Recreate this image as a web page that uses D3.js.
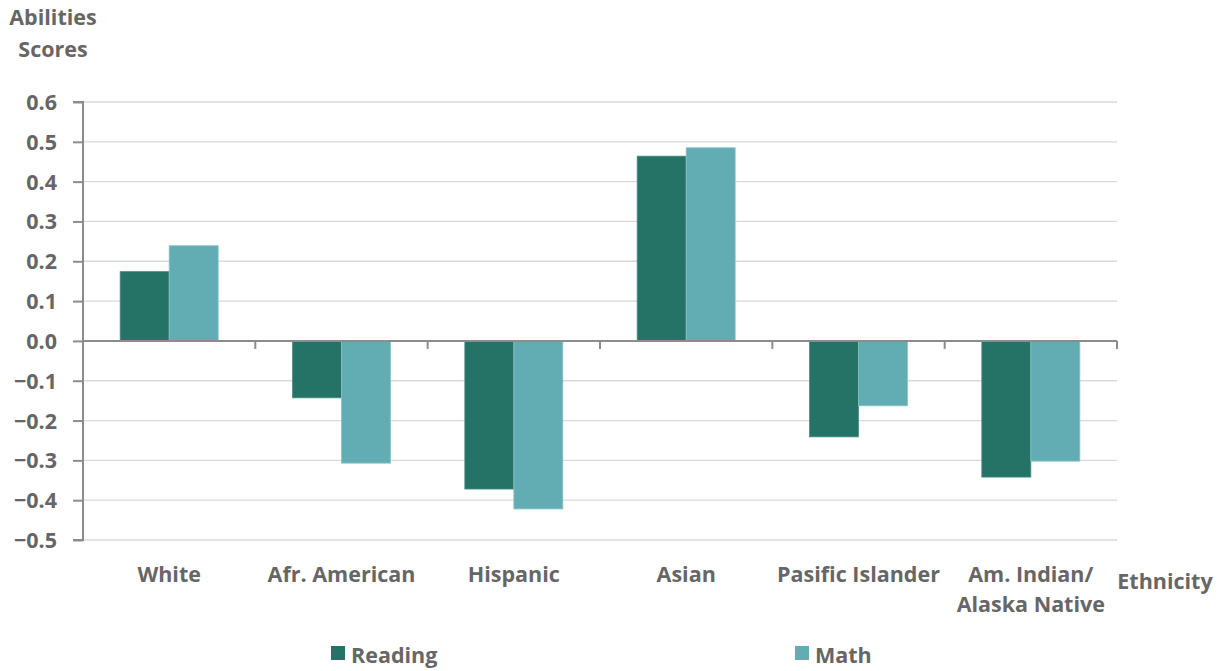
<!DOCTYPE html>
<html><head><meta charset="utf-8">
<script src="https://cdn.jsdelivr.net/npm/d3@7"></script>
<style>body{margin:0;background:#fff}svg{display:block}text{font-family:"Open Sans",Lato,sans-serif;font-weight:bold;fill:#666}</style>
</head><body><svg id="c" width="1227" height="671"></svg>
<script>
const categories = ["White","Afr. American","Hispanic","Asian","Pasific Islander","Am. Indian/\nAlaska Native"];
const seriesNames = ["Reading","Math"];
const reading = [0.174,-0.143,-0.372,0.464,-0.241,-0.342];
const math = [0.239,-0.307,-0.422,0.485,-0.163,-0.302];
const yTicks = [0.6,0.5,0.4,0.3,0.2,0.1,0.0,-0.1,-0.2,-0.3,-0.4,-0.5];
const colors = ["#247366","#62ADB4"];

const svg = d3.select("#c");
const L=83,R=1117,T=102,B=540;
const FS = "21.5px";
const y = d3.scaleLinear().domain([-0.5,0.6]).range([B,T]);
const x = d3.scaleBand().domain(categories).range([L,R]).paddingInner(0).paddingOuter(0);
const bw = 49;
const xs = d3.scaleBand().domain(seriesNames).range([0,bw*2]);

// gridlines
svg.append("g").selectAll("line").data(yTicks.filter(d=>d!==0)).join("line")
  .attr("x1",L).attr("x2",R).attr("y1",d=>y(d)).attr("y2",d=>y(d))
  .attr("stroke","#d9d9d9").attr("stroke-width",1.3);

// bars
const data = [reading,math];
data.forEach((vals,si)=>{
  svg.append("g").selectAll("rect").data(vals).join("rect")
    .attr("x",(d,i)=>x(categories[i])+x.bandwidth()/2-bw+xs(seriesNames[si]))
    .attr("width",xs.bandwidth())
    .attr("y",d=>y(Math.max(0,d)))
    .attr("height",d=>Math.abs(y(d)-y(0)))
    .attr("fill",colors[si])
    .attr("stroke",si===0?"#4a8e84":"#8cc3c8").attr("stroke-width",0.8);
});

// y axis
const yAxis = d3.axisLeft(y).tickValues(yTicks).tickFormat(d3.format(".1f")).tickSize(10).tickPadding(16);
const ga = svg.append("g").attr("transform",`translate(${L},0)`).call(yAxis);
ga.select(".domain").attr("stroke","#8c8c8c").attr("stroke-width",2).attr("d",`M-10,${T}H0V${B}H-10`);
ga.selectAll(".tick line").attr("stroke","#8c8c8c").attr("stroke-width",2);
ga.selectAll(".tick text").style("font-size",FS).style("font-family","'Open Sans',sans-serif").attr("fill","#666").attr("dy","0.35em");

// x axis at zero
const gx = svg.append("g").attr("transform",`translate(0,${y(0)})`);
gx.append("line").attr("x1",L).attr("x2",R).attr("stroke","#8c8c8c").attr("stroke-width",2);
const bounds = categories.map(c=>x(c)+x.bandwidth());
gx.selectAll("line.t").data(bounds).join("line").attr("class","t")
  .attr("x1",d=>d).attr("x2",d=>d).attr("y1",0).attr("y2",8)
  .attr("stroke","#8c8c8c").attr("stroke-width",2);

// category labels
categories.forEach(c=>{
  const lines = c.split("\n");
  const t = svg.append("text").attr("x",x(c)+x.bandwidth()/2).attr("y",582)
    .attr("text-anchor","middle").style("font-size",FS);
  lines.forEach((ln,i)=>t.append("tspan").attr("x",x(c)+x.bandwidth()/2).attr("dy",i?30:0).text(ln));
});

// axis titles
const yt = svg.append("text").attr("x",53).attr("y",25).attr("text-anchor","middle").style("font-size",FS);
yt.append("tspan").attr("x",53).text("Abilities");
yt.append("tspan").attr("x",53).attr("dy",32).text("Scores");
svg.append("text").attr("x",1165).attr("y",589).attr("text-anchor","middle").style("font-size",FS).text("Ethnicity");

// legend
const legX = [331,795];
seriesNames.forEach((s,i)=>{
  svg.append("rect").attr("x",legX[i]).attr("y",646).attr("width",14).attr("height",14).attr("fill",colors[i]);
  svg.append("text").attr("x",legX[i]+20).attr("y",663).style("font-size",FS).text(s);
});
</script></body></html>
